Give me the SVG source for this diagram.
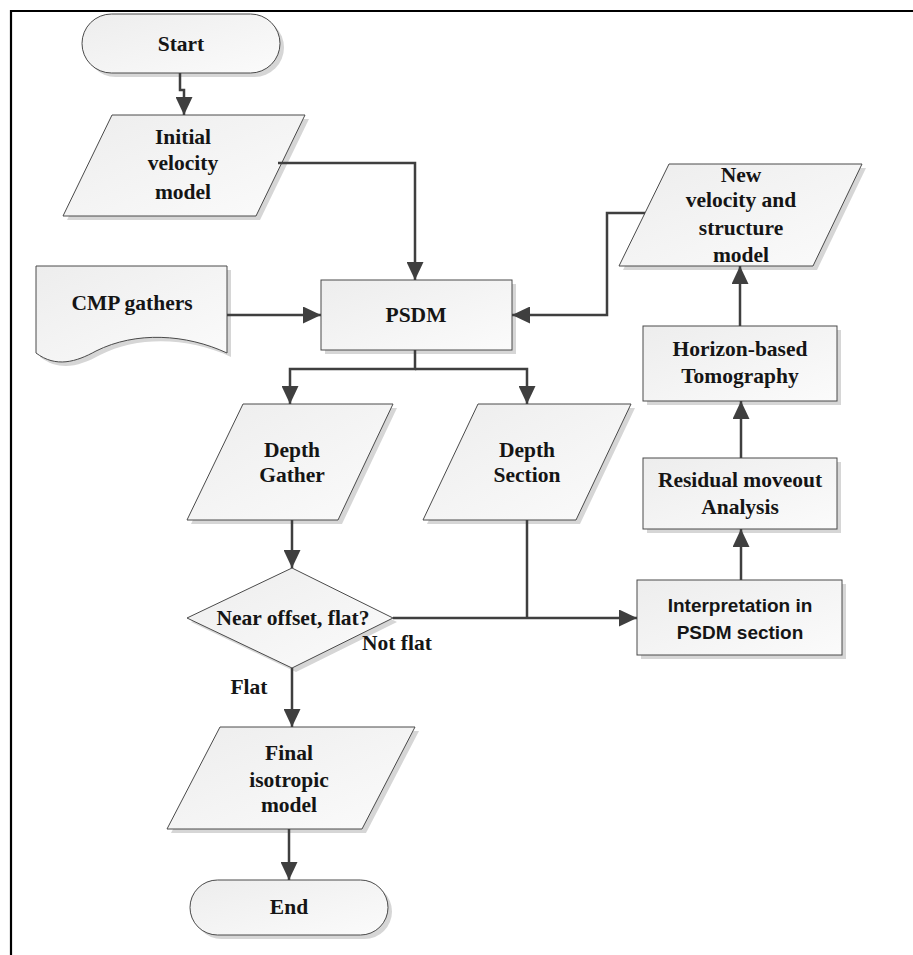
<svg xmlns="http://www.w3.org/2000/svg" xmlns:xlink="http://www.w3.org/1999/xlink" width="913" height="955" viewBox="0 0 913 955">
<style>
.frame{stroke:#000;stroke-width:2.2;fill:none}
.shape{fill:url(#g);stroke:#4a4a4a;stroke-width:1}
.shadow{fill:#d6d6d6}
.conn{fill:none;stroke:#3f3f3f;stroke-width:2.5}
.t{font-family:"Liberation Serif","Times New Roman",serif;font-weight:bold;font-size:21.5px;fill:#151515;text-anchor:middle}
.s{font-family:"Liberation Sans",Arial,sans-serif;font-weight:bold;font-size:19px;fill:#151515;text-anchor:middle}
</style>
<defs>
<linearGradient id="g" x1="0" y1="0" x2="1" y2="1">
<stop offset="0" stop-color="#ededed"/>
<stop offset="1" stop-color="#fbfbfb"/>
</linearGradient>
<marker id="arr" markerUnits="userSpaceOnUse" markerWidth="18" markerHeight="17" refX="18" refY="8.5" orient="auto" viewBox="0 0 18 17">
<path d="M0,0 L18,8.5 L0,17 z" fill="#3f3f3f"/>
</marker>
</defs>
<rect width="913" height="955" fill="#fff"/>
<path class="frame" d="M11,955 V11 H913"/>

<g id="start">
<rect class="shadow" x="86" y="18" width="198" height="59" rx="29.5"/>
<rect class="shape" x="82" y="14" width="198" height="59" rx="29.5"/>
<text class="t" x="181" y="51">Start</text>
</g>

<g id="initial">
<polygon class="shadow" points="116,119 309,119 260,220 67,220"/>
<polygon class="shape" points="112,115 305,115 256,216 63,216"/>
<text class="t" x="183" y="144">Initial</text>
<text class="t" x="183" y="170">velocity</text>
<text class="t" x="183" y="199">model</text>
</g>

<g id="cmp">
<path class="shadow" d="M40,270 H231 V357 C190,338 140,335 100,355 C80,366 60,372 40,357 Z"/>
<path class="shape" d="M36,266 H227 V353 C186,334 136,331 96,351 C76,362 56,368 36,353 Z"/>
<text class="t" x="132" y="310">CMP gathers</text>
</g>

<g id="psdm">
<rect class="shadow" x="325" y="284" width="191" height="70"/>
<rect class="shape" x="321" y="280" width="191" height="70"/>
<text class="t" x="416" y="322">PSDM</text>
</g>

<g id="newmodel">
<polygon class="shadow" points="673,168 866,168 817,270 623,270"/>
<polygon class="shape" points="669,164 862,164 813,266 619,266"/>
<text class="t" x="741" y="182">New</text>
<text class="t" x="741" y="207">velocity and</text>
<text class="t" x="741" y="235">structure</text>
<text class="t" x="741" y="262">model</text>
</g>

<g id="horizon">
<rect class="shadow" x="647" y="330" width="194" height="75"/>
<rect class="shape" x="643" y="326" width="194" height="75"/>
<text class="t" x="740" y="356">Horizon-based</text>
<text class="t" x="740" y="383">Tomography</text>
</g>

<g id="depthgather">
<polygon class="shadow" points="247,408 397,408 342,524 191,524"/>
<polygon class="shape" points="243,404 393,404 338,520 187,520"/>
<text class="t" x="292" y="457">Depth</text>
<text class="t" x="292" y="482">Gather</text>
</g>

<g id="depthsection">
<polygon class="shadow" points="482,408 635,408 580,524 427,524"/>
<polygon class="shape" points="478,404 631,404 576,520 423,520"/>
<text class="t" x="527" y="457">Depth</text>
<text class="t" x="527" y="482">Section</text>
</g>

<g id="residual">
<rect class="shadow" x="647" y="462" width="194" height="71"/>
<rect class="shape" x="643" y="458" width="194" height="71"/>
<text class="t" x="740" y="487">Residual moveout</text>
<text class="t" x="740" y="514">Analysis</text>
</g>

<g id="decision">
<polygon class="shadow" points="296,572 397,622 296,672 191,622"/>
<polygon class="shape" points="292,568 393,618 292,668 187,618"/>
<text class="t" x="293" y="625">Near offset, flat?</text>
</g>

<g id="interp">
<rect class="shadow" x="641" y="584" width="205" height="75"/>
<rect class="shape" x="637" y="580" width="205" height="75"/>
<text class="s" x="740" y="612">Interpretation in</text>
<text class="s" x="740" y="639">PSDM section</text>
</g>

<g id="final">
<polygon class="shadow" points="224,731 419,731 366,833 171,833"/>
<polygon class="shape" points="220,727 415,727 362,829 167,829"/>
<text class="t" x="289" y="760">Final</text>
<text class="t" x="289" y="787">isotropic</text>
<text class="t" x="289" y="812">model</text>
</g>

<g id="end">
<rect class="shadow" x="194" y="884" width="198" height="55" rx="27.5"/>
<rect class="shape" x="190" y="880" width="198" height="55" rx="27.5"/>
<text class="t" x="289" y="914">End</text>
</g>

<g id="connectors">
<path class="conn" d="M180,73 V90 H184 V115" marker-end="url(#arr)"/>
<path class="conn" d="M278,163 H415 V280" marker-end="url(#arr)"/>
<path class="conn" d="M227,315 H321" marker-end="url(#arr)"/>
<path class="conn" d="M645,213 H607 V315 H512" marker-end="url(#arr)"/>
<path class="conn" d="M415,350 V369 H290 V404" marker-end="url(#arr)"/>
<path class="conn" d="M415,369 H527 V404" marker-end="url(#arr)"/>
<path class="conn" d="M292,520 V568" marker-end="url(#arr)"/>
<path class="conn" d="M527,520 V618"/>
<path class="conn" d="M393,618 H637" marker-end="url(#arr)"/>
<path class="conn" d="M292,668 V727" marker-end="url(#arr)"/>
<path class="conn" d="M289,829 V880" marker-end="url(#arr)"/>
<path class="conn" d="M741,580 V529" marker-end="url(#arr)"/>
<path class="conn" d="M741,458 V401" marker-end="url(#arr)"/>
<path class="conn" d="M740,326 V266" marker-end="url(#arr)"/>
<text class="t" x="397" y="650">Not flat</text>
<text class="t" x="249" y="694">Flat</text>
</g>
</svg>
